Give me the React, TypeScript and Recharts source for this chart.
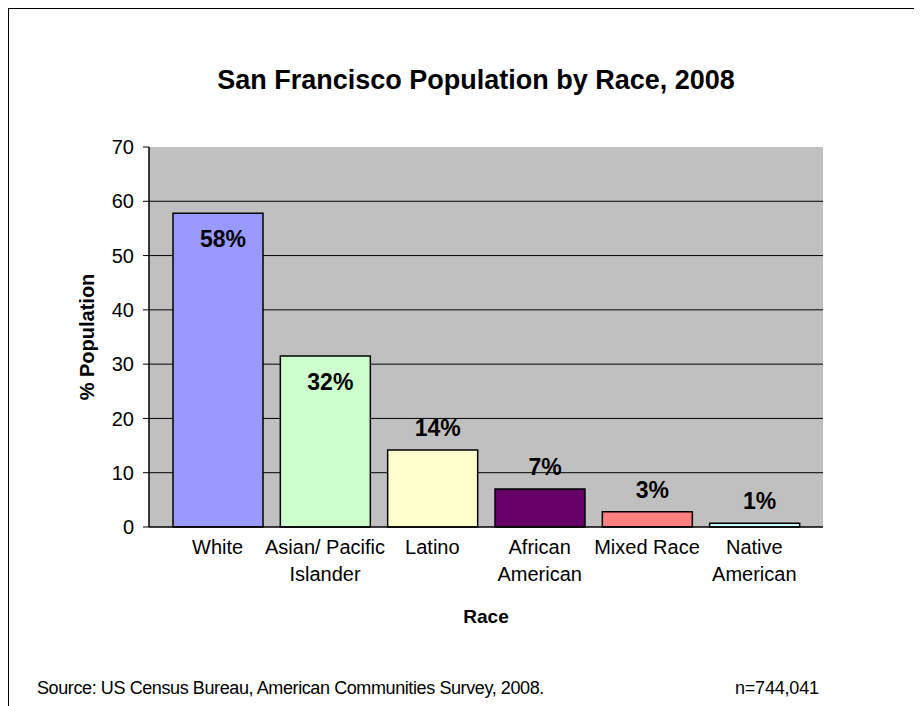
import React from "react";
import { BarChart, Bar, XAxis, YAxis, CartesianGrid, Cell, LabelList, Label } from "recharts";

const categories = ["White", "Asian/ Pacific\nIslander", "Latino", "African\nAmerican", "Mixed Race", "Native\nAmerican"];
const values = [57.8, 31.5, 14.2, 7.0, 2.8, 0.7];
const colors = ["#9999FF", "#CCFFCC", "#FFFFCC", "#660066", "#FF8080", "#CCFFFF"];
const yTicks = [0, 10, 20, 30, 40, 50, 60, 70];
const gridValues = [10, 20, 30, 40, 50, 60];

const title = "San Francisco Population by Race, 2008";
const source = "Source: US Census Bureau, American Communities Survey, 2008.";
const sampleSize = "n=744,041";

const data = categories.map((c, i) => ({ name: c, value: values[i] }));

const FONT = '"Liberation Sans", Arial, sans-serif';

const XTick = (props: any) => {
  const { x, y, payload } = props;
  const lines = String(payload.value).split("\n");
  return (
    <g>
      {lines.map((l, i) => (
        <text key={i} x={x} y={y} dy={19 + i * 27} textAnchor="middle" fontSize={20} fontFamily={FONT} fill="#000">
          {l}
        </text>
      ))}
    </g>
  );
};

const BarLabel = (props: any) => {
  const { x, y, width, value } = props;
  const inside = value > 20;
  const cy = inside ? y + 26 : y - 22;
  return (
    <text x={x + width / 2 + 5} y={cy} textAnchor="middle" dominantBaseline="central" fontSize={23} fontWeight="bold" fontFamily={FONT} fill="#000">
      {Math.round(value) + "%"}
    </text>
  );
};

export default function App() {
  return (
    <div style={{ position: "relative", width: 914, height: 698, borderTop: "1px solid #000", borderLeft: "1px solid #000", fontFamily: FONT }}>
      <div style={{ position: "absolute", left: -1, top: -1 }}>
        <BarChart width={914} height={698} data={data} margin={{ top: 139, right: 99, bottom: 119, left: 81 }} barSize={90}>
          <CartesianGrid horizontal={true} vertical={false} horizontalValues={gridValues} stroke="#000" strokeWidth={1} fill="#C0C0C0" fillOpacity={1} />
          <XAxis
            xAxisId="top"
            orientation="top"
            dataKey="name"
            height={0}
            tick={false}
            tickLine={false}
            axisLine={{ stroke: "#808080", strokeWidth: 1.5 }}
          />
          <YAxis
            yAxisId="right"
            orientation="right"
            domain={[0, 70]}
            width={0}
            tick={false}
            tickLine={false}
            axisLine={{ stroke: "#808080", strokeWidth: 1.5 }}
          />
          <XAxis
            dataKey="name"
            interval={0}
            height={60}
            padding={{ left: 15, right: 15 }}
            tickLine={false}
            axisLine={{ stroke: "#000", strokeWidth: 1.5 }}
            tick={<XTick />}
          >
            <Label
              content={(p: any) => (
                <text x={p.viewBox.x + p.viewBox.width / 2} y={89 + 519} dominantBaseline="central" textAnchor="middle" fontSize={19} fontWeight="bold" fontFamily={FONT} fill="#000">
                  Race
                </text>
              )}
            />
          </XAxis>
          <YAxis
            domain={[0, 70]}
            ticks={yTicks}
            interval={0}
            width={60}
            tickSize={6}
            tickMargin={9}
            axisLine={{ stroke: "#000", strokeWidth: 1.5 }}
            tickLine={{ stroke: "#000" }}
            tick={{ fontSize: 20, fill: "#000", fontFamily: FONT }}
          >
            <Label
              content={(p: any) => {
                const cx = p.viewBox.x - 2;
                const cy = p.viewBox.y + p.viewBox.height / 2;
                return (
                  <text x={cx} y={cy} transform={`rotate(-90, ${cx}, ${cy})`} dominantBaseline="central" textAnchor="middle" fontSize={20} fontWeight="bold" fontFamily={FONT} fill="#000">
                    % Population
                  </text>
                );
              }}
            />
          </YAxis>
          <Bar dataKey="value" isAnimationActive={false} stroke="#000" strokeWidth={1.5}>
            {data.map((d, i) => (
              <Cell key={i} fill={colors[i]} />
            ))}
            <LabelList dataKey="value" content={<BarLabel />} />
          </Bar>
        </BarChart>
      </div>
      <div style={{ position: "absolute", left: 467, top: 71, transform: "translate(-50%, -50%)", fontSize: 27, fontWeight: "bold", whiteSpace: "nowrap" }}>
        {title}
      </div>
      <div style={{ position: "absolute", left: 28, top: 679, transform: "translateY(-50%)", fontSize: 18, letterSpacing: -0.4, whiteSpace: "nowrap" }}>
        {source}
      </div>
      <div style={{ position: "absolute", left: 726, top: 679, transform: "translateY(-50%)", fontSize: 18, letterSpacing: -0.2, whiteSpace: "nowrap" }}>
        {sampleSize}
      </div>
    </div>
  );
}
